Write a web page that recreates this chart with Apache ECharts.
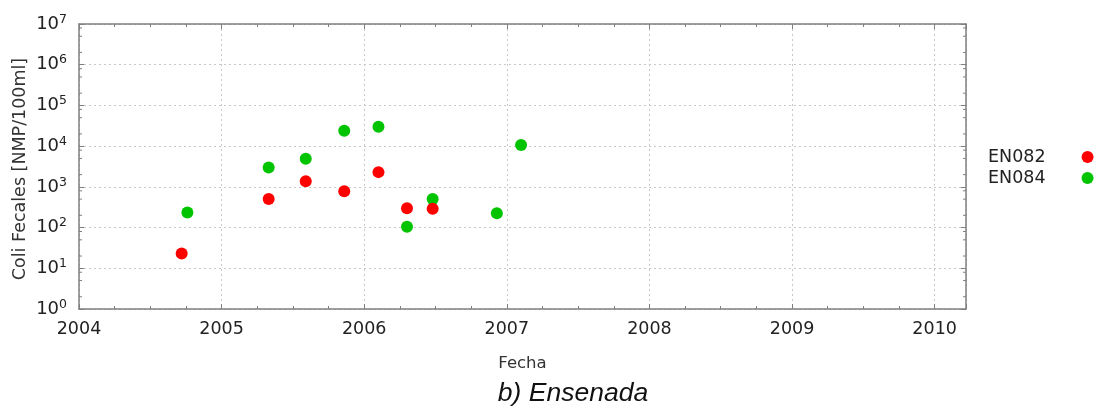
<!DOCTYPE html>
<html>
<head>
<meta charset="utf-8">
<script src="https://cdn.jsdelivr.net/npm/echarts@6/dist/echarts.min.js"></script>
<style>html,body{margin:0;padding:0;background:#fff}#c{width:1100px;height:408px}</style>
</head>
<body>
<div id="c"></div>
<script>
const seriesNames = ['EN082', 'EN084'];
const en082Fecha = [2004.72, 2005.33, 2005.59, 2005.86, 2006.10, 2006.30, 2006.48];
const en082Valor = [23, 500, 1370, 780, 2300, 300, 290];
const en084Fecha = [2004.76, 2005.33, 2005.59, 2005.86, 2006.10, 2006.30, 2006.48, 2006.93, 2007.10];
const en084Valor = [235, 3000, 4900, 24000, 30000, 105, 500, 225, 10700];
const xTicks = [2004, 2005, 2006, 2007, 2008, 2009, 2010];
const xMax = 2010.22;
const yExponents = [0, 1, 2, 3, 4, 5, 6, 7];
const yMinorMantissas = [2, 5, 8];

const FONT = 'DejaVu Sans';
const GRAY = '#7f7f7f';
const axisLineStyle = { color: GRAY, width: 1.5 };
const chart = echarts.init(document.getElementById('c'), null, { renderer: 'canvas' });

function pairs(xs, ys) { return xs.map((x, i) => [x, ys[i]]); }

// minor tick positions of the log axis (values 2,5,8 x 10^n)
const yMinorValues = [];
yExponents.slice(0, -1).forEach(e => yMinorMantissas.forEach(m => yMinorValues.push(m * Math.pow(10, e))));

const option = {
  animation: false,
  backgroundColor: '#ffffff',
  grid: { left: 79, right: 134, top: 24, bottom: 99, containLabel: false },
  title: {
    text: 'b) Ensenada',
    left: 568, top: 375, textAlign: 'center',
    textStyle: { fontFamily: 'Liberation Sans', fontStyle: 'italic', fontWeight: 'normal', fontSize: 26.5, color: '#111' }
  },
  legend: {
    orient: 'vertical', left: 988, top: 147, align: 'right', padding: 0,
    itemWidth: 12, itemHeight: 12, itemGap: 1,
    data: [
      { name: seriesNames[0], icon: 'circle' },
      { name: seriesNames[1], icon: 'circle' }
    ],
    textStyle: { fontFamily: FONT, fontSize: 17.5, color: '#222', lineHeight: 20, padding: [0, 31, 0, 0] }
  },
  xAxis: [{
    type: 'value', min: xTicks[0], max: xMax, interval: 1,
    name: 'Fecha', nameLocation: 'middle', nameGap: 46,
    nameTextStyle: { fontFamily: FONT, fontSize: 16.5, color: '#333' },
    axisLine: { show: true, onZero: false, lineStyle: axisLineStyle },
    axisTick: { show: true, inside: true, length: 5, lineStyle: { color: GRAY } },
    minorTick: { show: true, splitNumber: 4, length: 3, lineStyle: { color: GRAY } },
    axisLabel: { fontFamily: FONT, fontSize: 17.5, color: '#222', margin: 11, showMaxLabel: false,
      formatter: v => String(Math.round(v)) },
    splitLine: { show: true, lineStyle: { color: '#c8c8c8', type: [2, 3], width: 1 } }
  }, {
    type: 'value', position: 'top', min: xTicks[0], max: xMax, interval: 1,
    axisLine: { show: true, onZero: false, lineStyle: axisLineStyle },
    axisTick: { show: true, inside: true, length: 5, lineStyle: { color: GRAY } },
    minorTick: { show: true, splitNumber: 4, length: 3, lineStyle: { color: GRAY } },
    axisLabel: { show: false }, splitLine: { show: false }
  }],
  yAxis: [{
    type: 'log', logBase: 10, min: Math.pow(10, yExponents[0]), max: Math.pow(10, yExponents[yExponents.length - 1]),
    name: 'Coli Fecales [NMP/100ml]', nameLocation: 'middle', nameGap: 50, nameMoveOverlap: false,
    nameTextStyle: { fontFamily: FONT, fontSize: 17.5, color: '#333', padding: [0, 5, 0, 0] },
    axisLine: { show: true, onZero: false, lineStyle: axisLineStyle },
    axisTick: { show: true, inside: true, length: 5, lineStyle: { color: GRAY } },
    minorTick: { show: false },
    axisLabel: {
      margin: 12,
      formatter: v => '{b|10}{s|' + Math.round(Math.log10(v)) + '}',
      rich: {
        b: { fontFamily: FONT, fontSize: 18, color: '#222' },
        s: { fontFamily: FONT, fontSize: 12.5, color: '#222', padding: [0, 0, 9, 0] }
      }
    },
    splitLine: { show: true, lineStyle: { color: '#c8c8c8', type: [2, 3], width: 1 } }
  }, {
    type: 'log', logBase: 10, position: 'right', min: Math.pow(10, yExponents[0]), max: Math.pow(10, yExponents[yExponents.length - 1]),
    axisLine: { show: true, onZero: false, lineStyle: axisLineStyle },
    axisTick: { show: true, inside: true, length: 5, lineStyle: { color: GRAY } },
    axisLabel: { show: false }, splitLine: { show: false }
  }],
  series: [{
    name: 'minorLeft', type: 'scatter', silent: true, clip: false, z: 1,
    symbol: 'rect', symbolSize: [3, 1], symbolOffset: [1.5, 0],
    itemStyle: { color: GRAY, opacity: 1 },
    data: yMinorValues.map(v => [xTicks[0], v])
  }, {
    name: 'minorRight', type: 'scatter', silent: true, clip: false, z: 1,
    symbol: 'rect', symbolSize: [3, 1], symbolOffset: [-1.5, 0],
    itemStyle: { color: GRAY, opacity: 1 },
    data: yMinorValues.map(v => [xMax, v])
  }, {
    name: seriesNames[1], type: 'scatter', symbol: 'circle', symbolSize: 12, z: 2,
    itemStyle: { color: '#00c400', opacity: 1 },
    data: pairs(en084Fecha, en084Valor)
  }, {
    name: seriesNames[0], type: 'scatter', symbol: 'circle', symbolSize: 12, z: 3,
    itemStyle: { color: '#ff0000', opacity: 1 },
    data: pairs(en082Fecha, en082Valor)
  }]
};
chart.setOption(option);
</script>
</body>
</html>
